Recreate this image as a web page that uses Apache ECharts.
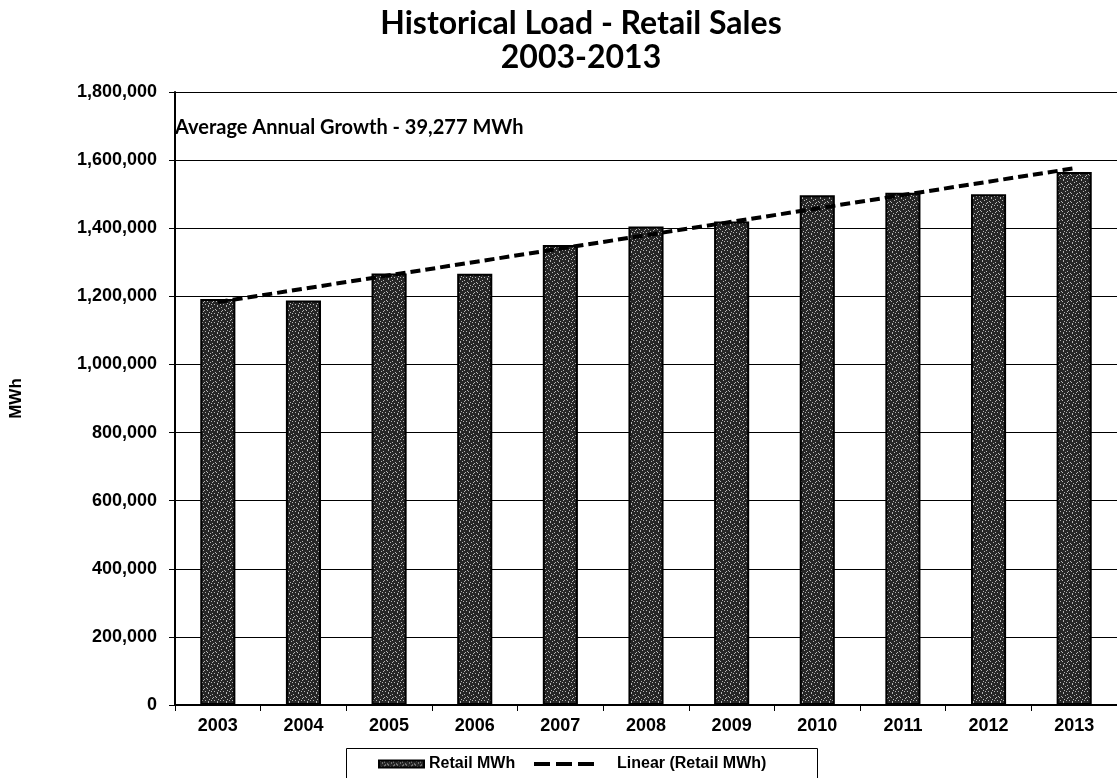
<!DOCTYPE html>
<html>
<head>
<meta charset="utf-8">
<script src="https://cdn.jsdelivr.net/npm/echarts@6/dist/echarts.min.js"></script>
<style>
  html, body { margin: 0; padding: 0; background: #fff; }
  #chart { width: 1117px; height: 778px; }
</style>
</head>
<body>
<div id="chart"></div>
<script>
// Retail sales by year (MWh)
const years = ['2003', '2004', '2005', '2006', '2007', '2008', '2009', '2010', '2011', '2012', '2013'];
const retailMWh = [1192000, 1188000, 1267000, 1266000, 1351000, 1405000, 1420000, 1497000, 1504000, 1500000, 1565000];
// Linear trendline end points (2003 and 2013)
const trendEnds = [1183000, 1576000];
const yTicks = [0, 200000, 400000, 600000, 800000, 1000000, 1200000, 1400000, 1600000, 1800000];
const titleLines = ['Historical Load - Retail Sales', '2003-2013'];
const growthNote = 'Average Annual Growth - 39,277 MWh';

const trendData = years.map((y, i) => i === 0 ? trendEnds[0] : (i === years.length - 1 ? trendEnds[1] : null));

// Grainy dark fill for the bars
function grainPattern() {
  const c = document.createElement('canvas');
  c.width = 9; c.height = 9;
  const g = c.getContext('2d');
  g.fillStyle = '#262626';
  g.fillRect(0, 0, 9, 9);
  const dots = [[1,0],[5,1],[3,2],[8,3],[0,4],[6,4],[2,6],[4,7],[7,7],[1,8],[5,5]];
  g.fillStyle = '#b5b5b5';
  dots.forEach(d => g.fillRect(d[0], d[1], 1, 1));
  return c;
}

const fmt = v => v.toLocaleString('en-US');
const legendText = { fontFamily: 'Liberation Sans', fontWeight: 'bold', fontSize: 16, color: '#000' };
const chart = echarts.init(document.getElementById('chart'), null, { renderer: 'canvas' });

chart.setOption({
  animation: false,
  backgroundColor: '#ffffff',
  title: {
    text: titleLines.join('\n'),
    left: 576,
    top: 2,
    textAlign: 'center',
    textStyle: { fontFamily: 'Lato', fontWeight: 'bold', fontSize: 32, lineHeight: 34, color: '#000' }
  },
  grid: { left: 168, right: -6, top: 92, bottom: 73, containLabel: false },
  legend: [
    {
      left: 378,
      top: 756,
      padding: 0,
      itemWidth: 45,
      itemHeight: 7,
      textStyle: legendText,
      data: [{ name: 'Retail MWh', icon: 'rect' }]
    },
    {
      left: 532,
      top: 756,
      padding: 0,
      itemWidth: 61,
      itemHeight: 14,
      textStyle: Object.assign({ padding: [0, 0, 0, 17] }, legendText),
      itemStyle: { opacity: 0 },
      lineStyle: { color: '#000', width: 4, type: [16, 6], opacity: 1 },
      data: ['Linear (Retail MWh)']
    }
  ],
  xAxis: {
    type: 'category',
    data: years,
    boundaryGap: true,
    axisLine: { lineStyle: { color: '#000', width: 2 } },
    axisTick: { show: true, alignWithLabel: false, length: 6, lineStyle: { color: '#000', width: 1 } },
    axisLabel: { margin: 12, fontFamily: 'Liberation Sans', fontWeight: 'bold', fontSize: 18, color: '#000' }
  },
  yAxis: {
    type: 'value',
    min: yTicks[0],
    max: yTicks[yTicks.length - 1],
    interval: yTicks[1] - yTicks[0],
    name: 'MWh',
    nameLocation: 'middle',
    nameGap: 150,
    nameRotate: 90,
    nameTextStyle: { fontFamily: 'Liberation Sans', fontWeight: 'bold', fontSize: 17, color: '#000' },
    axisLine: { show: true, lineStyle: { color: '#000', width: 2 } },
    axisTick: { show: true, length: 6, lineStyle: { color: '#000', width: 1 } },
    axisLabel: { margin: 18, fontFamily: 'Liberation Sans', fontWeight: 'bold', fontSize: 18, color: '#000', formatter: fmt },
    splitLine: { show: true, lineStyle: { color: '#000', width: 1 } }
  },
  graphic: [
    {
      type: 'text',
      x: 175,
      y: 128,
      style: { text: growthNote, fontFamily: 'Lato', fontWeight: 'bold', fontSize: 20, fill: '#000', verticalAlign: 'middle' }
    },
    {
      // legend frame
      type: 'rect',
      shape: { x: 346.5, y: 748.5, width: 471, height: 40 },
      style: { fill: 'none', stroke: '#000', lineWidth: 1 },
      z: -1
    }
  ],
  series: [
    {
      name: 'Retail MWh',
      type: 'bar',
      data: retailMWh,
      barWidth: '41%',
      itemStyle: { color: { image: grainPattern(), repeat: 'repeat' }, borderColor: '#000', borderWidth: 2 }
    },
    {
      name: 'Linear (Retail MWh)',
      type: 'line',
      data: trendData,
      connectNulls: true,
      symbol: 'none',
      z: 5,
      lineStyle: { color: '#000', width: 4, type: [10, 5] },
      itemStyle: { color: '#000' }
    }
  ]
});
</script>
</body>
</html>
